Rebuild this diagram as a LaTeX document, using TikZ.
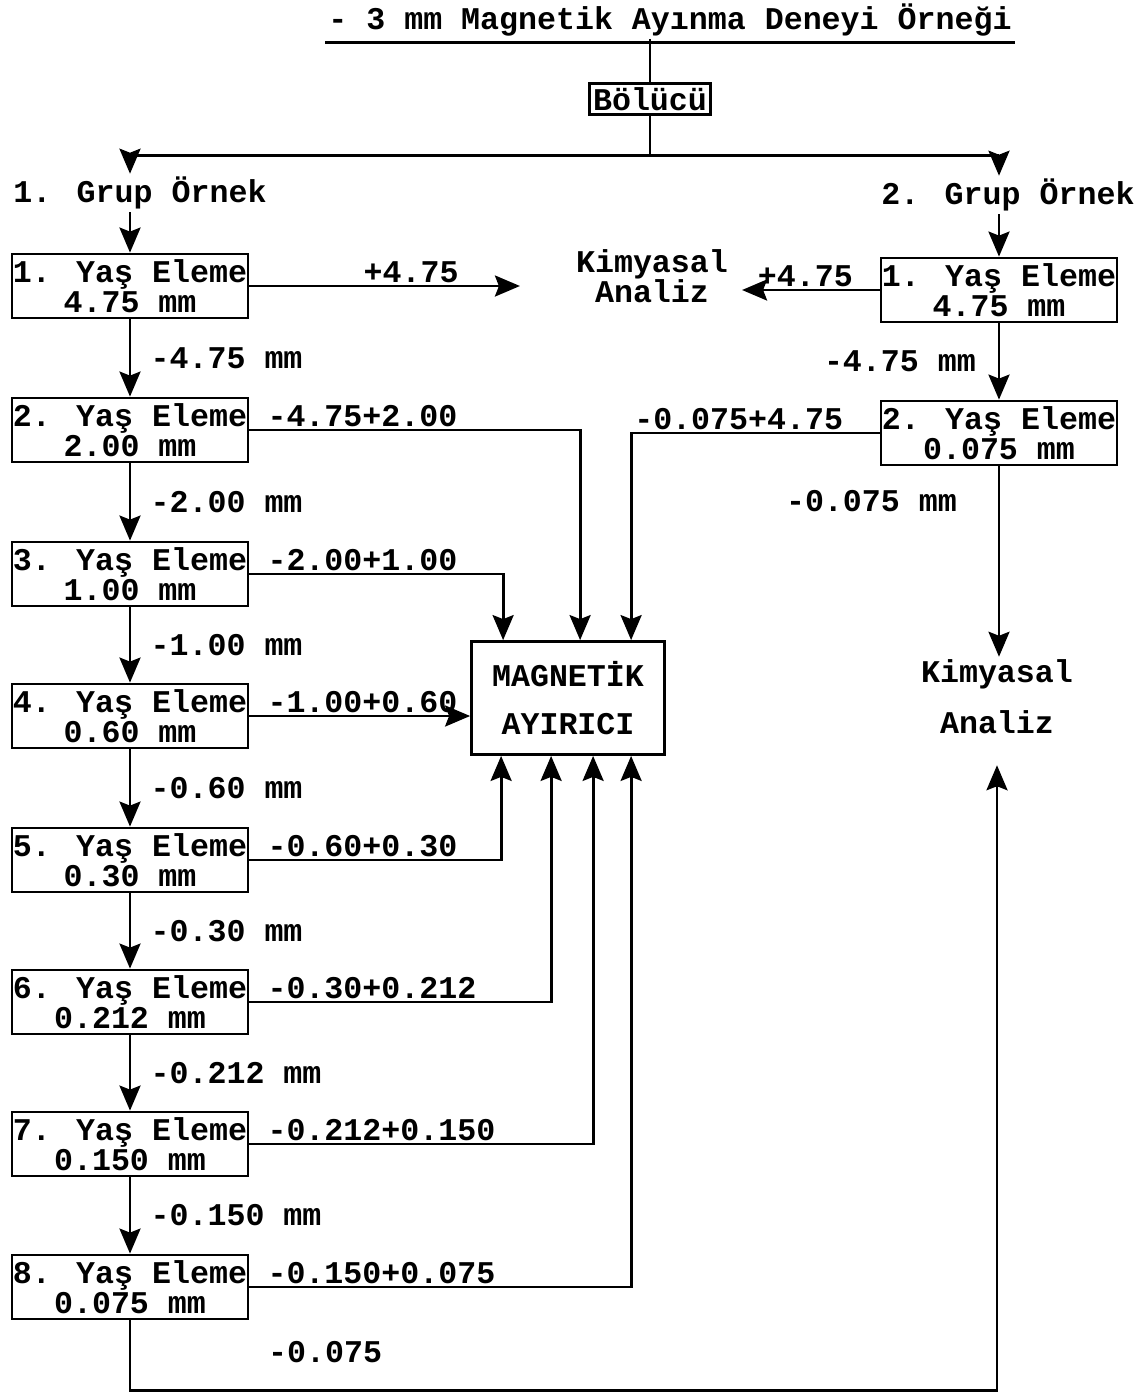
\documentclass[tikz,border=0pt]{standalone}
\usepackage{fontspec}
\setmainfont{Liberation Mono}
\usetikzlibrary{arrows.meta,positioning,calc}

\begin{document}
\begin{tikzpicture}[x=0.02cm, y=-0.02cm, >={Stealth[length=0.5cm,width=0.42cm,inset=0.08cm]}, line width=1.6pt,
    every node/.style={font=\fontsize{18}{17}\selectfont\bfseries, inner sep=1pt},
    elek/.style={draw, minimum width=4.72cm, minimum height=1.28cm, align=center, inner sep=0pt},
    dal/.style={anchor=south west, xshift=0.3cm, inner sep=1pt}]

    \useasboundingbox (0,0) rectangle (1142,1394);

    % Title and splitter
    \node (title) at (670,20) {- 3 mm Magnetik Ayınma Deneyi Örneği};
    \draw ([yshift=-2pt]title.south west) -- ([yshift=-2pt]title.south east);
    \node[draw, inner sep=2pt] (bol) at (650,99) {Bölücü};
    \node (grp1) at (140,193) {1. Grup Örnek};
    \node (grp2) at (1008,195) {2. Grup Örnek};

    % Group 1 screens
    \foreach \i/\y/\size in {1/286/4.75, 2/430/2.00, 3/574/1.00, 4/716/0.60,
                             5/860/0.30, 6/1002/0.212, 7/1144/0.150, 8/1287/0.075} {
        \node[elek] (lb\i) at (130,\y) {\i. Yaş Eleme\\\size{} mm};
    }

    % Group 2 screens
    \node[elek] (rb1) at (999,290) {1. Yaş Eleme\\4.75 mm};
    \node[elek] (rb2) at (999,433) {2. Yaş Eleme\\0.075 mm};

    % Analysis and separator
    \node[align=center] (kim1) at (652,276) {Kimyasal\\Analiz};
    \node[align=center] (kim2) at (997,697) {Kimyasal\\[12pt]Analiz};
    \node[draw, minimum width=3.86cm, minimum height=2.26cm, align=center] (mag) at (568,698)
        {MAGNETİK\\[10pt]AYIRICI};

    % Splitting
    \draw (bol.north |- title.south) -- (bol.north);
    \draw (bol.south) -- ++(0,40) coordinate (split);
    \draw[->] (split) -| (lb1.north |- grp1.north);
    \draw[->] (split) -| (rb1.north |- grp2.north);
    \draw[->] (lb1.north |- grp1.south) -- (lb1.north);
    \draw[->] (rb1.north |- grp2.south) -- (rb1.north);

    % Group 1 chain
    \foreach \a/\b/\txt in {1/2/-4.75, 2/3/-2.00, 3/4/-1.00, 4/5/-0.60,
                            5/6/-0.30, 6/7/-0.212, 7/8/-0.150} {
        \draw[->] (lb\a) -- (lb\b) node[midway, right=0.35cm] (d\a) {\txt{} mm};
    }

    % Oversize to analysis
    \draw[->, shorten >=1.06cm] (lb1.east) -- (lb1.east -| kim1.west) node[midway, above] (p1) {+4.75};
    \draw[->, shorten >=0.22cm] (rb1.west) -- (rb1.west -| kim1.east) node[midway, above] (p2) {+4.75};

    % Group 2 chain
    \draw[->] (rb1.south) -- (rb2.north) node[midway, left=0.4cm] (e1) {-4.75 mm};
    \draw[->] (rb2.south) -- (rb2.south |- kim2.north) node[pos=0.18, left=0.78cm] (e2) {-0.075 mm};

    % Fractions to the magnetic separator
    \draw[->] (rb2.west) -| ($(mag.north west)+(161,0)$) node[pos=0.5, anchor=south west] (f0) {-0.075+4.75};
    \draw[->] (lb2.east) -| ($(mag.north west)+(110,0)$) node[pos=0, dal] (f2) {-4.75+2.00};
    \draw[->] (lb3.east) -| ($(mag.north west)+(33,0)$) node[pos=0, dal] (f3) {-2.00+1.00};
    \draw[->] (lb4.east) -- (mag.west |- lb4.east) node[pos=0, dal] (f4) {-1.00+0.60};
    \draw[->] (lb5.east) -| ($(mag.south west)+(31,0)$) node[pos=0, dal] (f5) {-0.60+0.30};
    \draw[->] (lb6.east) -| ($(mag.south west)+(81,0)$) node[pos=0, dal] (f6) {-0.30+0.212};
    \draw[->] (lb7.east) -| ($(mag.south west)+(123,0)$) node[pos=0, dal] (f7) {-0.212+0.150};
    \draw[->] (lb8.east) -| ($(mag.south west)+(161,0)$) node[pos=0, dal] (f8) {-0.150+0.075};

    % Undersize to analysis
    \draw[->] (lb8.south) -- ++(0,70) -| ([yshift=-0.56cm]kim2.south);
    \node[anchor=west] (f9) at (265,1352) {-0.075};

\end{tikzpicture}
\end{document}
